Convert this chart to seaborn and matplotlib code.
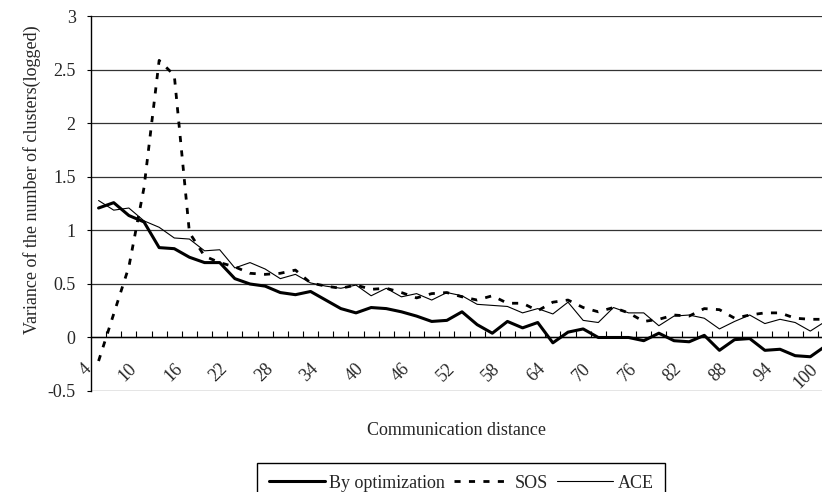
import numpy as np
import pandas as pd
import seaborn as sns
import matplotlib.pyplot as plt

# ------------------------------------------------------------
# data
# ------------------------------------------------------------
distance = np.arange(4, 101, 2)

by_optimization = [1.21, 1.26, 1.14, 1.08, 0.84, 0.83, 0.75, 0.70, 0.70, 0.55,
                   0.50, 0.48, 0.42, 0.40, 0.43, 0.35, 0.27, 0.23, 0.28, 0.27,
                   0.24, 0.20, 0.15, 0.16, 0.24, 0.12, 0.04, 0.15, 0.09, 0.14,
                   -0.05, 0.05, 0.08, 0.00, 0.00, 0.00, -0.03, 0.04, -0.03, -0.04,
                   0.02, -0.12, -0.02, -0.01, -0.12, -0.11, -0.17, -0.18, -0.08]

sos = [-0.22, 0.22, 0.66, 1.40, 2.59, 2.45, 0.98, 0.76, 0.70, 0.66,
       0.60, 0.59, 0.60, 0.63, 0.51, 0.48, 0.46, 0.49, 0.45, 0.46,
       0.42, 0.37, 0.41, 0.42, 0.38, 0.35, 0.39, 0.32, 0.32, 0.25,
       0.33, 0.35, 0.28, 0.24, 0.28, 0.23, 0.15, 0.17, 0.21, 0.20,
       0.27, 0.26, 0.18, 0.21, 0.23, 0.23, 0.18, 0.17, 0.17]

ace = [1.28, 1.19, 1.21, 1.09, 1.03, 0.93, 0.92, 0.81, 0.82, 0.65,
       0.70, 0.64, 0.55, 0.59, 0.51, 0.48, 0.46, 0.49, 0.39, 0.46,
       0.38, 0.41, 0.35, 0.42, 0.39, 0.31, 0.30, 0.29, 0.23, 0.27,
       0.22, 0.33, 0.16, 0.14, 0.28, 0.23, 0.23, 0.11, 0.20, 0.21,
       0.18, 0.08, 0.15, 0.21, 0.13, 0.17, 0.14, 0.06, 0.15]

tick_labels = distance[::3]
y_ticks = np.arange(-0.5, 3.01, 0.5)

# ------------------------------------------------------------
# style
# ------------------------------------------------------------
sns.set_style("white")
plt.rcParams["font.family"] = ["Liberation Serif", "DejaVu Serif"]
plt.rcParams["font.size"] = 13

fig = plt.figure(figsize=(8.22, 4.92), dpi=100)
ax = fig.add_axes([0.1107, 0.2053, 0.9027, 0.7612])

sns.lineplot(x=distance, y=by_optimization, ax=ax, color="black",
             linewidth=2.2, label="By optimization")
sns.lineplot(x=distance, y=sos, ax=ax, color="black",
             linewidth=2.0, linestyle=(0, (2.2, 3)), label="SOS")
sns.lineplot(x=distance, y=ace, ax=ax, color="black",
             linewidth=0.8, label="ACE")

# ------------------------------------------------------------
# axes
# ------------------------------------------------------------
ax.set_xlim(3, 101)
ax.set_ylim(-0.5, 3)
ax.set_yticks(y_ticks)
ax.set_yticklabels([f"{v:g}" for v in y_ticks])
ax.yaxis.grid(True, color="#333333", linewidth=0.9)
ax.set_axisbelow(True)

for side in ["top", "right"]:
    ax.spines[side].set_visible(False)
ax.spines["left"].set_color("black")
ax.spines["left"].set_linewidth(1.0)
ax.spines["bottom"].set_position(("data", 0))
ax.spines["bottom"].set_color("black")
ax.spines["bottom"].set_linewidth(1.0)

# category boundaries as tick marks on the zero line
ax.set_xticks(np.arange(5, 101, 2))
ax.tick_params(axis="x", bottom=True, direction="in", length=4, width=0.8,
               color="black", labelbottom=False)
ax.tick_params(axis="y", left=True, direction="out", length=3, width=0.8,
               color="black", pad=8, labelsize=13)

for d in tick_labels:
    ax.text(d - 1.3, -0.27, str(d), rotation=45, ha="right", va="center",
            rotation_mode="anchor", fontsize=13)

ax.set_xlabel("Communication distance", fontsize=13)
ax.xaxis.set_label_coords(0.492, -0.083)
ax.set_ylabel("Variance of the number of clusters(logged)", fontsize=13)
ax.yaxis.set_label_coords(-0.067, 0.563)

leg = ax.legend(loc="upper center", bbox_to_anchor=(0.561, 0.059),
                bbox_transform=fig.transFigure, borderaxespad=0, ncol=3,
                frameon=True, fancybox=False, framealpha=1, edgecolor="black",
                handlelength=3.1, handletextpad=0.25, columnspacing=0.5,
                borderpad=0.65, fontsize=13)
leg.get_frame().set_linewidth(1.0)

fig.savefig("out.png", dpi=100)
